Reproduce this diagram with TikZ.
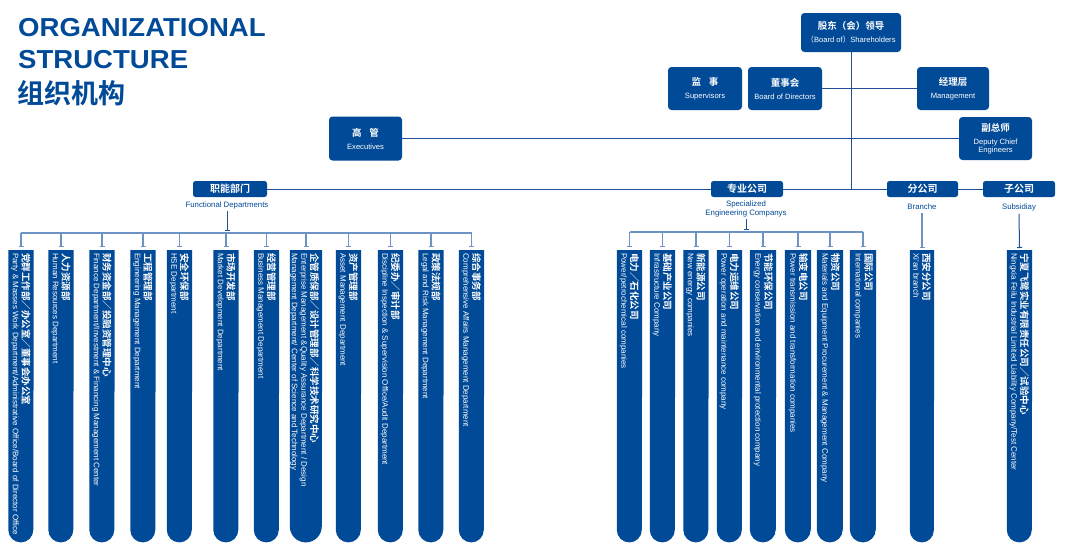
\documentclass[tikz,border=0pt]{standalone}
\usepackage{fontspec}
\setmainfont{Liberation Sans}
\newfontfamily\cjk{Noto Sans CJK SC}[BoldFont={Noto Sans CJK SC Bold}]
\newfontfamily\titlefont{Liberation Sans}[FakeStretch=1.06]
\usetikzlibrary{arrows.meta}
\definecolor{boxblue}{HTML}{004A97}
\definecolor{lineblue}{HTML}{1E4F97}
\definecolor{lightblue}{HTML}{6D93C5}
\tikzset{
  box/.style={fill=boxblue, rounded corners=3.5pt, text=white, align=center, inner sep=0pt, font=\fontsize{7.6}{13}\selectfont},
  midbox/.style={fill=boxblue, rounded corners=2.5pt, text=white, align=center, inner sep=0pt, minimum height=16pt, font=\cjk\bfseries\fontsize{10}{10}\selectfont},
  mainline/.style={draw=lineblue, line width=1pt},
  busline/.style={draw=lightblue, line width=1.8pt},
  drop/.style={draw=lightblue, line width=1.3pt, -{Bar[width=5pt,line width=1pt]}},
  darkdrop/.style={draw=lineblue, line width=1pt, -{Bar[width=5pt,line width=1pt]}},
  colframe/.style={rectangle, inner sep=0pt},
  coltext/.style={text=white, align=left, inner sep=0pt, rotate=-90, anchor=north west, font=\fontsize{8}{9.5}\selectfont},
  sublabel/.style={text=boxblue, align=center, inner sep=0pt, font=\fontsize{7.8}{8.5}\selectfont},
  titletext/.style={anchor=base west, inner sep=0pt, text=boxblue},
}
\newcommand\colCN[1]{{\cjk\bfseries\fontsize{9.5}{9.5}\selectfont #1}}
\newcommand\boxtext[2]{{\cjk\bfseries\fontsize{9.5}{13}\selectfont #1}\\#2}
\newcommand\mkcol[5]{%
  \node[colframe, minimum width=#3pt, minimum height={292pt-#3pt/2}, anchor=north] (#1) at (#2,-250) {};
  \fill[boxblue] (#1.north west) -- (#1.south west) arc[start angle=180, end angle=360, radius=#3pt/2] -- (#1.north east) -- cycle;
  \begin{scope}
    \clip (#1.north west) -- (#1.south west) arc[start angle=180, end angle=360, radius=#3pt/2] -- (#1.north east) -- cycle;
    \node[coltext] (#1t) at ([xshift=-3pt,yshift=-3pt]#1.north east) {\colCN{#4}\\#5};
  \end{scope}}
\begin{document}
\begin{tikzpicture}[x=1pt,y=1pt]
\useasboundingbox (0,0) rectangle (1067,-555);
\fill[white] (0,0) rectangle (1067,-555);

% title
\node[titletext, font=\titlefont\bfseries\fontsize{26}{26}\selectfont] (t1) at (18,-36) {ORGANIZATIONAL};
\node[titletext, font=\titlefont\bfseries\fontsize{26}{26}\selectfont] (t2) at (18,-68) {STRUCTURE};
\node[titletext, font=\cjk\bfseries\fontsize{27}{27}\selectfont] (t3) at (17,-103) {组织机构};

% top boxes
\node[box, minimum width=100pt, minimum height=39pt] (sh) at (851,-32.5) {\boxtext{股东（会）领导}{{\cjk（}Board of{\cjk）}Shareholders}};
\node[box, minimum width=74pt, minimum height=43pt] (sup) at (705,-88.5) {\boxtext{监\hspace{0.8em}事}{Supervisors}};
\node[box, minimum width=74pt, minimum height=43pt] (bod) at (785,-88.5) {\boxtext{董事会}{Board of Directors}};
\node[box, minimum width=72pt, minimum height=43pt] (mgmt) at (953,-88.5) {\boxtext{经理层}{Management}};
\node[box, minimum width=73pt, minimum height=43pt] (dce) at (995.5,-138.5) {\boxtext{副总师}{Deputy Chief\\[-5pt]Engineers}};
\node[box, minimum width=73pt, minimum height=44pt] (exe) at (365.5,-138.5) {\boxtext{高\hspace{0.8em}管}{Executives}};

% middle boxes
\node[midbox, minimum width=74pt] (fd) at (230,-189) {职能部门};
\node[midbox, minimum width=72pt] (sec) at (747,-189) {专业公司};
\node[midbox, minimum width=71pt] (br) at (922.5,-189) {分公司};
\node[midbox, minimum width=72pt] (sub) at (1019,-189) {子公司};

\node[sublabel] (fdl) at (227,-205) {Functional Departments};
\node[sublabel] (secl) at (746,-209) {Specialized\\Engineering Companys};
\node[sublabel] (brl) at (922,-207) {Branche};
\node[sublabel] (subl) at (1019,-207) {Subsidiay};

% main connectors
\coordinate (junc) at (sh.south |- fd.east);
\draw[mainline] (sh.south) -- (junc);
\draw[mainline] (bod.east) -- (mgmt.west);
\draw[mainline] (exe.east) -- (dce.west);
\draw[mainline] (fd.east) -- (sec.west);
\draw[mainline] (sec.east) -- (br.west);
\draw[mainline] (br.east) -- (sub.west);

% functional department columns
\mkcol{c1}{21}{25}{党群工作部／办公室／董事会办公室}{Party \& Masses Work Department/Administrative Office/Board of Director Office}
\mkcol{c2}{61}{25}{人力资源部}{Human Resources Department}
\mkcol{c3}{102}{25}{财务资金部／投融资管理中心}{Finance Department/Investment \& Financing Management Center}
\mkcol{c4}{143}{25}{工程管理部}{Engineering Management Department}
\mkcol{c5}{179.5}{25}{安全环保部}{HSE Department}
\mkcol{c6}{226}{25}{市场开发部}{Market Development Department}
\mkcol{c7}{266.5}{25}{经营管理部}{Business Management Department}
\mkcol{c8}{306}{32}{企管质保部／设计管理部／科学技术研究中心}{Enterprise Management \&Quality Assurance Department / Design\\Management Department/ Center of Science and Technology}
\mkcol{c9}{348.5}{25}{资产管理部}{Asset Management Department}
\mkcol{c10}{390.5}{25}{纪委办／审计部}{Discipline Inspection \& Supervision Office/Audit Department}
\mkcol{c11}{431}{25}{政策法规部}{Legal and Risk Management Department}
\mkcol{c12}{471.5}{25}{综合事务部}{Comprehensive Affairs Management Department}

% specialized companies
\mkcol{c13}{629.5}{25}{电力／石化公司}{Power/petrochemical companies}
\mkcol{c14}{662.5}{25}{基础产业公司}{Infrastructure Company}
\mkcol{c15}{696}{25}{新能源公司}{New energy companies}
\mkcol{c16}{729.5}{25}{电力运维公司}{Power operation and maintenance company}
\mkcol{c17}{763}{26}{节能环保公司}{Energy conservation and environmental protection company}
\mkcol{c18}{798}{26}{输变电公司}{Power transmission and transformation companies}
\mkcol{c19}{830}{26}{物资公司}{Materials and Equipment Procurement \& Management Company}
\mkcol{c20}{863}{26}{国际公司}{International companies}

% branch / subsidiary
\mkcol{c21}{922}{24}{西安分公司}{Xi'an branch}
\mkcol{c22}{1019.5}{25}{宁夏飞鹭实业有限责任公司／试验中心}{Ningxia Feilu Industrial Limited Liability Company/Test Center}

% buses
\coordinate (busL) at (21,-233);
\coordinate (busR) at (471.5,-233);
\coordinate (bus2L) at (629.5,-232);
\coordinate (bus2R) at (863,-232);
\draw[busline] (busL) -- (busR);
\draw[busline] (bus2L) -- (bus2R);
\draw[darkdrop] ([yshift=-2pt]fdl.south) -- ([yshift=2pt]fdl.south |- busL);
\draw[darkdrop] ([yshift=-2pt]secl.south) -- ([yshift=2pt]secl.south |- bus2L);

\foreach \c in {c1,c2,c3,c4,c5,c6,c7,c8,c9,c10,c11,c12}
  \draw[drop] (\c.north |- busL) -- ([yshift=3pt]\c.north);
\foreach \c in {c13,c14,c15,c16,c17,c18,c19,c20}
  \draw[drop] (\c.north |- bus2L) -- ([yshift=3pt]\c.north);
\draw[drop] ([yshift=-3pt]brl.south) -- ([yshift=2pt]c21.north);
\draw[darkdrop] ([yshift=-3pt]subl.south) -- ([yshift=2pt]c22.north);
\end{tikzpicture}
\end{document}
